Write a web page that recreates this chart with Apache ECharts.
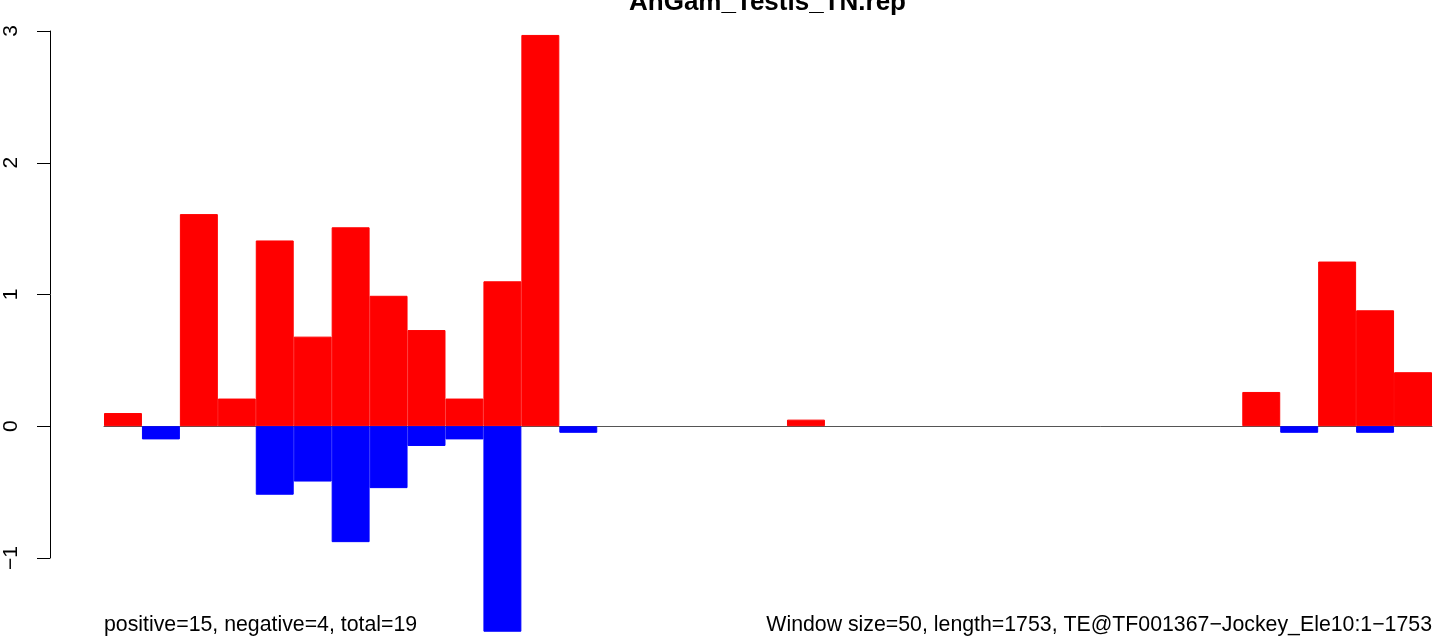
<!DOCTYPE html>
<html>
<head>
<meta charset="utf-8">
<script src="https://cdn.jsdelivr.net/npm/echarts@6/dist/echarts.min.js"></script>
<style>
html,body{margin:0;padding:0;background:#fff;}
#chart{width:1455px;height:641px;}
</style>
</head>
<body>
<div id="chart"></div>
<script>
// Windows of 50 bp along the TE (35 windows)
var windows = [];
for (var i = 1; i <= 35; i++) windows.push('w' + i);

// Positive (red) values per window, null = no bar
var positiveValues = [0.10, null, 1.61, 0.21, 1.41, 0.68, 1.51, 0.99, 0.73, 0.21,
  1.10, 2.97, null, null, null, null, null, null, 0.05, null,
  null, null, null, null, null, null, null, null, null, null,
  0.26, null, 1.25, 0.88, 0.41];

// Negative (blue) values per window
var negativeValues = [null, -0.10, null, null, -0.52, -0.42, -0.88, -0.47, -0.15, -0.10,
  -1.56, null, -0.05, null, null, null, null, null, null, null,
  null, null, null, null, null, null, null, null, null, null,
  null, -0.05, null, -0.05, null];

var yTicks = [-1, 0, 1, 2, 3];

var titleText = 'AnGam_Testis_TN.rep';
var leftNote = 'positive=15, negative=4, total=19';
var rightNote = 'Window size=50, length=1753, TE@TF001367\u2212Jockey_Ele10:1\u22121753';

var FONT = '"Liberation Sans", Arial, Helvetica, sans-serif';

var chart = echarts.init(document.getElementById('chart'), null, {renderer: 'canvas'});
chart.setOption({
  animation: false,
  backgroundColor: '#ffffff',
  grid: [
    {left: 104, width: 1328, top: 31, height: 606, containLabel: false},
    {left: 50, width: 1000, top: 31, height: 527, containLabel: false}
  ],
  xAxis: [
    {
      type: 'category', gridIndex: 0, data: windows,
      axisLine: {show: true, onZero: true, lineStyle: {color: '#555555', width: 1}},
      axisTick: {show: false}, axisLabel: {show: false}, splitLine: {show: false}
    },
    {
      type: 'value', gridIndex: 1, min: 0, max: 1, show: false
    }
  ],
  yAxis: [
    {
      type: 'value', gridIndex: 0, min: -1.6, max: 3, show: false
    },
    {
      type: 'value', gridIndex: 1, min: -1, max: 3, interval: 1,
      axisLine: {show: true, lineStyle: {color: '#000000', width: 1}},
      axisTick: {show: true, length: 13, lineStyle: {color: '#000000', width: 1}},
      axisLabel: {
        show: true, rotate: 90, margin: 28, color: '#000000',
        fontFamily: FONT, fontSize: 21,
        formatter: function (v) { return v < 0 ? '\u2212' + Math.abs(v) : String(v); }
      },
      splitLine: {show: false}
    }
  ],
  series: [
    {
      type: 'bar', xAxisIndex: 0, yAxisIndex: 0, data: positiveValues,
      itemStyle: {color: '#ff0000', borderColor: '#ff0000', borderWidth: 1},
      barGap: '-100%', barCategoryGap: '0%', barWidth: '100%'
    },
    {
      type: 'bar', xAxisIndex: 0, yAxisIndex: 0, data: negativeValues,
      itemStyle: {color: '#0000ff', borderColor: '#0000ff', borderWidth: 1},
      barGap: '-100%', barCategoryGap: '0%', barWidth: '100%'
    }
  ],
  graphic: [
    {
      type: 'text', x: 767.5, y: 3,
      style: {text: titleText, fill: '#000', font: 'bold 26px ' + FONT,
        textAlign: 'center', textVerticalAlign: 'middle'}
    },
    {
      type: 'text', x: 104, y: 625,
      style: {text: leftNote, fill: '#000', font: '21.3px ' + FONT,
        textAlign: 'left', textVerticalAlign: 'middle'}
    },
    {
      type: 'text', x: 1432, y: 625,
      style: {text: rightNote, fill: '#000', font: '21.3px ' + FONT,
        textAlign: 'right', textVerticalAlign: 'middle'}
    }
  ]
});
</script>
</body>
</html>
